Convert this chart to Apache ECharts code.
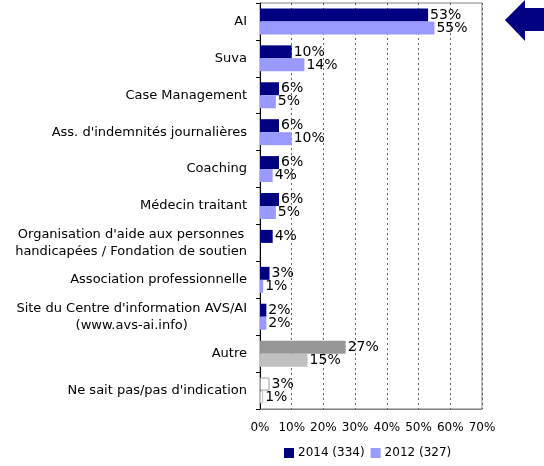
<!DOCTYPE html>
<html>
<head>
<meta charset="utf-8">
<script src="https://cdn.jsdelivr.net/npm/echarts@6/dist/echarts.min.js"></script>
<style>
  html, body { margin: 0; padding: 0; background: #fff; }
  #main { width: 544px; height: 466px; }
</style>
</head>
<body>
<div id="main"></div>
<script>
// categories, top to bottom
let categories = [
    'AI',
    'Suva',
    'Case Management',
    "Ass. d'indemnités journalières",
    'Coaching',
    'Médecin traitant',
    "Organisation d'aide aux personnes\nhandicapées / Fondation de soutien",
    'Association professionnelle',
    "Site du Centre d'information AVS/AI\n(www.avs-ai.info)",
    'Autre',
    'Ne sait pas/pas d\'indication'
];
let values2014 = [53, 10, 6, 6, 6, 6, 4, 3, 2, 27, 3]; // 2014 (334)
let values2012 = [55, 14, 5, 10, 4, 5, null, 1, 2, 15, 1]; // 2012 (327)
let xTicks = [0, 10, 20, 30, 40, 50, 60, 70];

const chart = echarts.init(document.getElementById('main'));

const FONT = 'DejaVu Sans';

function buildData(values, special) {
    return values.map(function (v, i) {
        if (v === null) return '-';
        if (special[categories[i]]) {
            return { value: v, itemStyle: special[categories[i]] };
        }
        return v;
    });
}

const special2014 = {
    'Autre': { color: '#969696' },
    'Ne sait pas/pas d\'indication': { color: '#ffffff', borderColor: '#a0a0a0', borderWidth: 1 }
};
const special2012 = {
    'Autre': { color: '#c0c0c0' },
    'Ne sait pas/pas d\'indication': { color: '#ffffff', borderColor: '#c0c0c0', borderWidth: 1 }
};

const labelStyle = {
    show: true,
    position: 'right',
    distance: 2,
    formatter: '{c}%',
    color: '#000',
    fontFamily: FONT,
    fontSize: 14
};

let option = {
    animation: false,
    backgroundColor: '#ffffff',
    textStyle: { fontFamily: FONT },
    grid: {
        left: 260,
        right: 62,
        top: 3,
        bottom: 57,
        show: true,
        borderColor: '#808080',
        borderWidth: 1
    },
    legend: {
        left: 279,
        bottom: 2,
        itemWidth: 10,
        itemHeight: 10,
        itemGap: 6,
        icon: 'rect',
        textStyle: { fontFamily: FONT, fontSize: 12, color: '#000', padding: [0, 0, 0, -1] },
        data: ['2014 (334)', '2012 (327)']
    },
    xAxis: {
        type: 'value',
        min: 0,
        max: 70,
        interval: 10,
        axisLine: { show: true, lineStyle: { color: '#808080' } },
        axisTick: { show: false },
        axisLabel: {
            formatter: function (v) { return xTicks.indexOf(v) >= 0 ? v + '%' : ''; },
            color: '#000',
            fontFamily: FONT,
            fontSize: 12,
            margin: 13
        },
        splitLine: { show: true, lineStyle: { color: '#606060', type: [2, 3], width: 1 } }
    },
    yAxis: {
        type: 'category',
        inverse: true,
        data: categories,
        axisLine: { show: true, lineStyle: { color: '#000', width: 1 } },
        axisTick: { show: true, length: 4, lineStyle: { color: '#000' } },
        axisLabel: {
            color: '#000',
            fontFamily: FONT,
            fontSize: 13,
            margin: 13,
            align: 'right',
            formatter: function (v) { return '{c|' + v + '}'; },
            rich: {
                c: {
                    align: 'center',
                    color: '#000',
                    fontFamily: FONT,
                    fontSize: 13,
                    lineHeight: 17
                }
            }
        }
    },
    series: [{
        name: '2014 (334)',
        type: 'bar',
        barWidth: 13,
        barGap: '0%',
        itemStyle: { color: '#000080' },
        label: labelStyle,
        data: buildData(values2014, special2014)
    }, {
        name: '2012 (327)',
        type: 'bar',
        barWidth: 13,
        barGap: '0%',
        itemStyle: { color: '#9999ff' },
        label: labelStyle,
        data: buildData(values2012, special2012)
    }],
    graphic: [{
        type: 'polygon',
        shape: {
            points: [[505, 20], [525, 0], [525, 8], [544, 8], [544, 31], [525, 31], [525, 41]]
        },
        style: { fill: '#000080' }
    }]
};

chart.setOption(option);
</script>
</body>
</html>
